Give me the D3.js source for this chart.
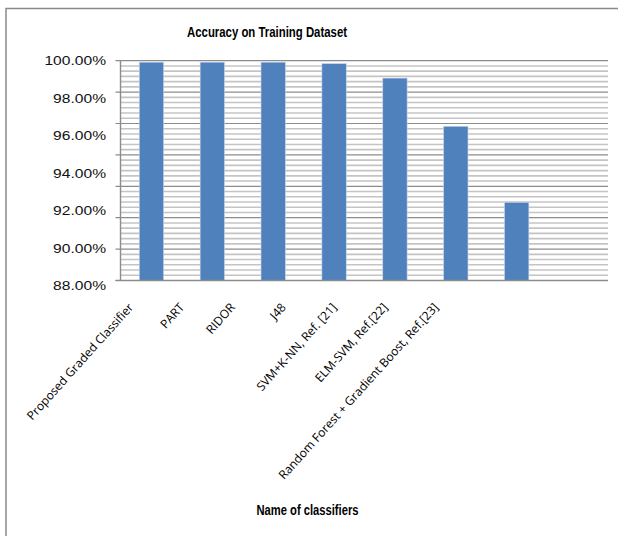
<!DOCTYPE html>
<html>
<head>
<meta charset="utf-8">
<script src="https://cdn.jsdelivr.net/npm/d3@7"></script>
<style>
  body { margin: 0; background: #fff; }
  svg { display: block; }
</style>
</head>
<body>
<script>
// chart data
var categories = ["Proposed Graded Classifier", "PART", "RIDOR", "J48",
    "SVM+K-NN, Ref. [21]", "ELM-SVM, Ref.[22]", "Random Forest + Gradient Boost, Ref.[23]"];
var accuracy = [99.92, 99.92, 99.92, 99.84, 99.05, 96.42, 92.27];
var yTicks = [88, 90, 92, 94, 96, 98, 100];
var chartTitle = "Accuracy on Training Dataset";
var xTitle = "Name of classifiers";

var W = 618, H = 536;
var plot = { left: 120.5, right: 608, top: 60.7, bottom: 280.5 };

var svg = d3.select("body").append("svg")
    .attr("width", W)
    .attr("height", H);

// outer frame (only top and left edges show in the picture)
svg.append("rect")
    .attr("x", 6).attr("y", 8.5)
    .attr("width", 800).attr("height", 800)
    .style("fill", "none")
    .style("stroke", "#8a8a8a")
    .style("stroke-width", 1.5);

// y scale for bars and grid
var yScale = d3.scaleLinear()
    .domain([88, 100])
    .range([plot.bottom, plot.top]);

// labels on the picture sit on a slightly longer run than the grid
var yLabelScale = d3.scaleLinear()
    .domain([88, 100])
    .range([286, plot.top]);

// one empty slot at the end, like the source chart
var xScale = d3.scaleBand()
    .domain(d3.range(categories.length + 1))
    .range([121, plot.right])
    .paddingInner(0.6)
    .paddingOuter(0.3);

var xLabelScale = d3.scalePoint()
    .domain(categories)
    .range([131, 436]);

// grid: 7 major steps, 6 minor steps in each
var nMajor = 7, nMinor = 6;
var gridVals = d3.range(nMajor * nMinor + 1).map(function (i) {
    return 88 + i * 12 / (nMajor * nMinor);
});

svg.selectAll(".minor")
    .data(gridVals.filter(function (d, i) { return i % nMinor != 0; }))
    .enter().append("line")
    .attr("class", "minor")
    .attr("x1", plot.left).attr("x2", plot.right)
    .attr("y1", function (d) { return yScale(d); })
    .attr("y2", function (d) { return yScale(d); })
    .style("stroke", "#c4c4c4")
    .style("stroke-width", 1.6);

var majors = gridVals.filter(function (d, i) { return i % nMinor == 0; });
svg.selectAll(".major")
    .data(majors)
    .enter().append("line")
    .attr("class", "major")
    .attr("x1", plot.left - 5).attr("x2", plot.right)
    .attr("y1", function (d) { return yScale(d); })
    .attr("y2", function (d) { return yScale(d); })
    .style("stroke", "#8c8c8c")
    .style("stroke-width", 1.2);

// bars
svg.selectAll(".bar")
    .data(accuracy)
    .enter().append("rect")
    .attr("class", "bar")
    .attr("x", function (d, i) { return xScale(i); })
    .attr("width", xScale.bandwidth())
    .attr("y", function (d) { return yScale(d); })
    .attr("height", function (d) { return plot.bottom - yScale(d); })
    .style("fill", "#4f81bd")
    .style("stroke", "#c9d6ea")
    .style("stroke-width", 0.6);

// axis lines
svg.append("line")
    .attr("x1", plot.left).attr("x2", plot.left)
    .attr("y1", plot.top).attr("y2", plot.bottom)
    .style("stroke", "#8c8c8c").style("stroke-width", 1.4);
svg.append("line")
    .attr("x1", plot.left - 5).attr("x2", plot.right)
    .attr("y1", plot.bottom).attr("y2", plot.bottom)
    .style("stroke", "#8c8c8c").style("stroke-width", 1.4);

// y tick labels
var fmt = d3.format(".2f");
svg.selectAll(".ylab")
    .data(yTicks)
    .enter().append("text")
    .attr("class", "ylab")
    .attr("transform", function (d) {
        return "translate(106," + yLabelScale(d) + ") scale(1.3,1)";
    })
    .attr("dy", "0.36em")
    .style("text-anchor", "end")
    .style("font-family", "Liberation Sans, Arial, sans-serif")
    .style("font-size", "12px")
    .style("fill", "#111")
    .text(function (d) { return fmt(d) + "%"; });

// x category labels
svg.selectAll(".xlab")
    .data(categories)
    .enter().append("text")
    .attr("class", "xlab")
    .attr("transform", function (d) {
        return "translate(" + xLabelScale(d) + ",305) rotate(-48)";
    })
    .attr("dy", "0.35em")
    .style("text-anchor", "end")
    .style("font-family", "Open Sans, sans-serif")
    .style("font-size", "12px")
    .style("fill", "#000")
    .text(function (d) { return d; });

// titles
svg.append("text")
    .attr("x", 267).attr("y", 37)
    .attr("textLength", 160)
    .attr("lengthAdjust", "spacingAndGlyphs")
    .style("text-anchor", "middle")
    .style("font-family", "Liberation Sans, Arial, sans-serif")
    .style("font-weight", "bold")
    .style("font-size", "15px")
    .text(chartTitle);

svg.append("text")
    .attr("x", 307.5).attr("y", 515)
    .attr("textLength", 102)
    .attr("lengthAdjust", "spacingAndGlyphs")
    .style("text-anchor", "middle")
    .style("font-family", "Liberation Sans, Arial, sans-serif")
    .style("font-weight", "bold")
    .style("font-size", "14px")
    .text(xTitle);
</script>
</body>
</html>
